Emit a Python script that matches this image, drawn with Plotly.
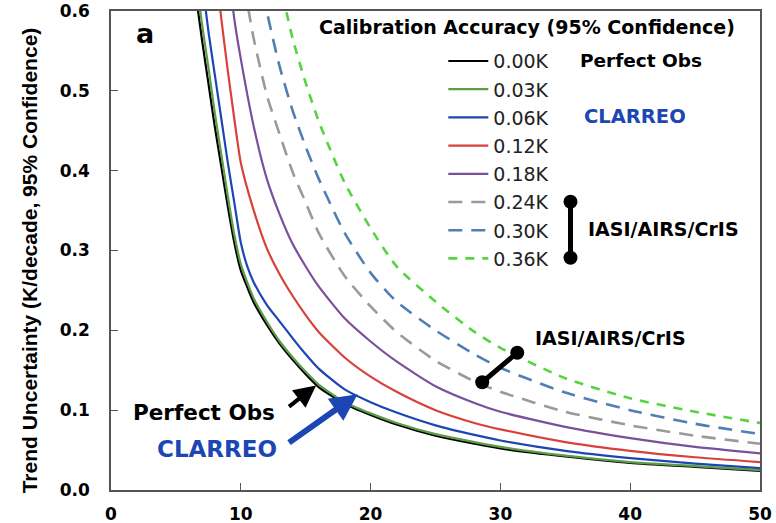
import plotly.graph_objects as go

# ---- data ----
labels = ["0.00K", "0.03K", "0.06K", "0.12K", "0.18K", "0.24K", "0.30K", "0.36K"]

x_k000 = [6.5, 7, 7.5, 8, 8.5, 9, 9.5, 10, 10.5, 11, 12, 13, 14, 15, 16, 18, 20, 22, 25, 28, 30, 35, 40, 45, 50]
y_k000 = [0.625, 0.565, 0.51, 0.455, 0.405, 0.355, 0.31, 0.275, 0.254, 0.235, 0.207, 0.183, 0.163, 0.145, 0.129, 0.108, 0.094, 0.082, 0.068, 0.058, 0.052, 0.042, 0.034, 0.029, 0.024]

x_k003 = [6.5, 7, 7.5, 8, 8.5, 9, 9.5, 10, 10.5, 11, 12, 13, 14, 15, 16, 18, 20, 22, 25, 28, 30, 35, 40, 45, 50]
y_k003 = [0.65, 0.585, 0.53, 0.472, 0.42, 0.368, 0.32, 0.283, 0.26, 0.24, 0.211, 0.186, 0.166, 0.148, 0.132, 0.11, 0.096, 0.084, 0.07, 0.06, 0.054, 0.043, 0.035, 0.03, 0.025]

x_k006 = [7, 7.5, 8, 8.5, 9, 9.5, 10, 10.5, 11, 12, 13, 14, 15, 16, 18, 20, 22, 25, 28, 30, 35, 40, 45, 50]
y_k006 = [0.64, 0.575, 0.52, 0.465, 0.41, 0.36, 0.31, 0.28, 0.26, 0.232, 0.211, 0.19, 0.17, 0.152, 0.126, 0.11, 0.097, 0.081, 0.069, 0.062, 0.049, 0.040, 0.033, 0.0275]

x_k012 = [8, 8.5, 9, 9.5, 10, 11, 12, 13, 14, 15, 16, 18, 20, 22, 25, 28, 30, 35, 40, 45, 50]
y_k012 = [0.66, 0.59, 0.525, 0.465, 0.41, 0.35, 0.303, 0.27, 0.243, 0.219, 0.198, 0.166, 0.142, 0.123, 0.1, 0.084, 0.076, 0.06, 0.049, 0.041, 0.035]

x_k018 = [9, 9.5, 10, 11, 12, 13, 14, 15, 16, 18, 20, 22, 25, 28, 30, 35, 40, 45, 50]
y_k018 = [0.66, 0.59, 0.54, 0.455, 0.39, 0.345, 0.308, 0.28, 0.255, 0.215, 0.186, 0.161, 0.13, 0.109, 0.098, 0.079, 0.065, 0.054, 0.046]

x_k024 = [10, 10.5, 11, 12, 13, 14, 15, 16, 18, 20, 22, 25, 28, 30, 35, 40, 45, 50]
y_k024 = [0.66, 0.61, 0.565, 0.495, 0.445, 0.398, 0.36, 0.322, 0.268, 0.23, 0.198, 0.162, 0.136, 0.123, 0.098, 0.081, 0.068, 0.058]

x_k030 = [11.5, 12, 13, 14, 15, 16, 18, 20, 22, 25, 28, 30, 35, 40, 45, 50]
y_k030 = [0.65, 0.6, 0.53, 0.475, 0.43, 0.39, 0.322, 0.272, 0.236, 0.2, 0.17, 0.153, 0.122, 0.1, 0.083, 0.070]

x_k036 = [13, 13.5, 14, 15, 16, 18, 20, 22, 25, 28, 30, 35, 40, 45, 50]
y_k036 = [0.64, 0.6, 0.565, 0.51, 0.462, 0.385, 0.328, 0.28, 0.236, 0.198, 0.178, 0.14, 0.115, 0.098, 0.084]

xs = [x_k000, x_k003, x_k006, x_k012, x_k018, x_k024, x_k030, x_k036]
ys = [y_k000, y_k003, y_k006, y_k012, y_k018, y_k024, y_k030, y_k036]

colors = ["#000000", "#5f9c4a", "#1c46b4", "#d8413c", "#7a4f9c", "#9a9a9a", "#4f7fb4", "#55d43f"]
dashes = ["solid", "solid", "solid", "solid", "solid", "14px,9px", "14px,9px", "9px,8px"]

# IASI/AIRS/CrIS dumbbell markers
bar_legend_x = [35.4, 35.4]
bar_legend_y = [0.361, 0.291]
bar_curve_x = [28.6, 31.3]
bar_curve_y = [0.135, 0.172]

FONT = "DejaVu Sans, sans-serif"
TITLE_FONT = "Liberation Sans, Arial, sans-serif"

fig = go.Figure()
for i in range(len(labels)):
    fig.add_trace(go.Scatter(
        x=xs[i], y=ys[i], mode="lines", name=labels[i],
        legendgroup=labels[i],
        line=dict(color=colors[i], width=2.2 if i < 5 else 2.6, dash=dashes[i], shape="spline", smoothing=0.6),
    ))

for bx, by in [(bar_legend_x, bar_legend_y), (bar_curve_x, bar_curve_y)]:
    fig.add_trace(go.Scatter(
        x=bx, y=by, mode="lines+markers", showlegend=False,
        line=dict(color="black", width=5),
        marker=dict(color="black", size=14),
        hoverinfo="skip",
    ))

annotations = [
    dict(x=0.036, y=0.952, xref="paper", yref="paper", text="<b>a</b>", showarrow=False,
         font=dict(size=27, color="black", family=FONT), xanchor="left", yanchor="middle"),
    dict(x=0.641, y=0.9666, xref="paper", yref="paper",
         text="<b>Calibration Accuracy (95% Confidence)</b>", showarrow=False,
         font=dict(size=19, color="black", family=FONT), xanchor="center", yanchor="middle"),
    dict(x=36.0, y=0.5376, text="<b>Perfect Obs</b>", showarrow=False,
         font=dict(size=18.5, color="black", family=FONT), xanchor="left", yanchor="middle"),
    dict(x=36.3, y=0.4674, text="<b>CLARREO</b>", showarrow=False,
         font=dict(size=19.5, color="#1c46b4", family=FONT), xanchor="left", yanchor="middle"),
    dict(x=36.6, y=0.327, text="<b>IASI/AIRS/CrIS</b>", showarrow=False,
         font=dict(size=19, color="black", family=FONT), xanchor="left", yanchor="middle"),
    dict(x=32.5, y=0.1905, text="<b>IASI/AIRS/CrIS</b>", showarrow=False,
         font=dict(size=19, color="black", family=FONT), xanchor="left", yanchor="middle"),
    dict(x=15.8, y=0.131, ax=13.6, ay=0.103, xref="x", yref="y", axref="x", ayref="y",
         text="", showarrow=True, arrowhead=2, arrowsize=1.1, arrowwidth=4, arrowcolor="black"),
    dict(x=1.55, y=0.0977, text="<b>Perfect Obs</b>", showarrow=False,
         font=dict(size=21.5, color="black", family=FONT), xanchor="left", yanchor="middle"),
    dict(x=19.0, y=0.120, ax=13.6, ay=0.058, xref="x", yref="y", axref="x", ayref="y",
         text="", showarrow=True, arrowhead=2, arrowsize=0.9, arrowwidth=6, arrowcolor="#1c46b4"),
    dict(x=3.4, y=0.0514, text="<b>CLARREO</b>", showarrow=False,
         font=dict(size=23, color="#1c46b4", family=FONT), xanchor="left", yanchor="middle"),
    dict(x=-0.126, y=0.48, xref="paper", yref="paper", textangle=-90,
         text="<b>Trend Uncertainty (K/decade, 95% Confidence)</b>", showarrow=False,
         font=dict(size=21, color="black", family=TITLE_FONT), xanchor="center", yanchor="middle"),
]

fig.update_layout(
    width=776, height=523,
    margin=dict(l=111, r=16, t=11, b=33),
    paper_bgcolor="white", plot_bgcolor="white",
    font=dict(family=FONT, color="black"),
    showlegend=True,
    legend=dict(x=0.512, y=0.935, xanchor="left", yanchor="top",
                bgcolor="rgba(0,0,0,0)", font=dict(size=19, family=FONT, color="#222"),
                tracegroupgap=0.5, itemwidth=40),
    annotations=annotations,
)
fig.update_xaxes(range=[0, 50], tickvals=[0, 10, 20, 30, 40, 50],
                 ticktext=["<b>0</b>", "<b>10</b>", "<b>20</b>", "<b>30</b>", "<b>40</b>", "<b>50</b>"],
                 ticks="inside", ticklen=7, tickcolor="#555",
                 showline=True, linecolor="#555", linewidth=1.5, mirror=True,
                 showgrid=False, zeroline=False, automargin=False,
                 ticklabelstandoff=8,
                 tickfont=dict(size=17, family=FONT, color="black"))
fig.update_yaxes(range=[0, 0.6], tickvals=[0, 0.1, 0.2, 0.3, 0.4, 0.5, 0.6],
                 ticktext=["<b>0.0</b>", "<b>0.1</b>", "<b>0.2</b>", "<b>0.3</b>", "<b>0.4</b>", "<b>0.5</b>", "<b>0.6</b>"],
                 ticks="inside", ticklen=7, tickcolor="#555",
                 showline=True, linecolor="#555", linewidth=1.5, mirror=True,
                 showgrid=False, zeroline=False, automargin=False,
                 ticklabelstandoff=16,
                 tickfont=dict(size=17, family=FONT, color="black"))

fig.write_html("out.html", config={"displayModeBar": False},
               post_script="document.body.style.margin='0';")
